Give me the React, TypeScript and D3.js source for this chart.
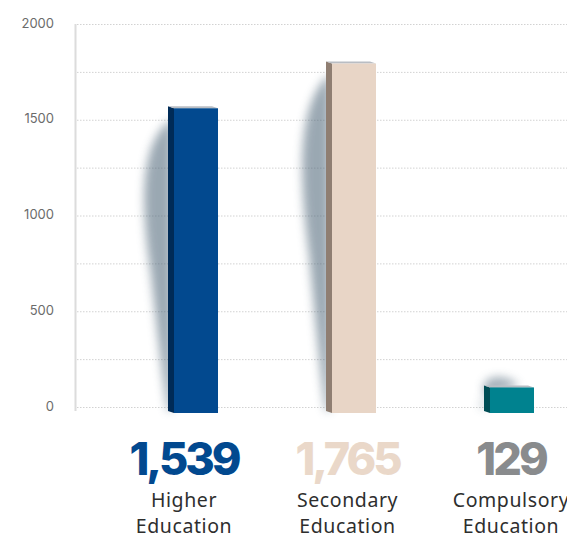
import React, { useEffect, useRef } from 'react';
import * as d3 from 'd3';

const categories = ['Higher Education', 'Secondary Education', 'Compulsory Education'];
const labelLines = [['Higher', 'Education'], ['Secondary', 'Education'], ['Compulsory', 'Education']];
const values = [1539, 1765, 129];
const valueLabels = ['1,539', '1,765', '129'];
const yTicks = [0, 500, 1000, 1500, 2000];
const gridTicks = [0, 250, 500, 750, 1000, 1250, 1500, 1750, 2000];

const frontColors = ['#02498f', '#e8d5c6', '#00828f'];
const sideColors = ['#002b57', '#8f7e72', '#004d55'];
const numberColors = ['#02498f', '#ead8c9', '#898b8d'];

const App: React.FC = () => {
  const svgRef = useRef<SVGSVGElement>(null);

  useEffect(() => {
    if (!svgRef.current) return;
    const svg = d3.select(svgRef.current);
    svg.selectAll('*').remove();

    const width = 567;

    // axis / grid scale
    const yScale = d3.scaleLinear().domain([0, 2000]).range([407, 24]);
    // bars sit on a baseline a little lower than the zero grid line
    const barScale = d3.scaleLinear().domain([0, 2000]).range([413, 17]);

    const xScale = d3.scalePoint<string>().domain(categories).range([196, 512]);
    const labelScale = d3.scalePoint<string>().domain(categories).range([184, 511]);

    const barWidth = 44;
    const depth = 6;
    const lift = 2;

    const defs = svg.append('defs');
    defs.append('filter')
      .attr('id', 'shadowBlur')
      .attr('x', '-50%').attr('y', '-50%')
      .attr('width', '200%').attr('height', '200%')
      .append('feGaussianBlur')
      .attr('stdDeviation', 5);

    // grid lines
    svg.append('g')
      .selectAll('line')
      .data(gridTicks)
      .join('line')
      .attr('x1', 77)
      .attr('x2', width)
      .attr('y1', d => yScale(d) + 0.5)
      .attr('y2', d => yScale(d) + 0.5)
      .attr('stroke', '#d2d2d2')
      .attr('stroke-width', 1)
      .attr('stroke-dasharray', '1.5,1.5');

    // y axis line
    svg.append('line')
      .attr('x1', 75.5).attr('x2', 75.5)
      .attr('y1', yScale(2000)).attr('y2', 411)
      .attr('stroke', '#dcdcdc')
      .attr('stroke-width', 2);

    // y tick labels
    svg.append('g')
      .selectAll('text')
      .data(yTicks)
      .join('text')
      .attr('x', 54)
      .attr('y', d => yScale(d) - 1)
      .attr('dy', '0.35em')
      .attr('text-anchor', 'end')
      .attr('font-family', 'Inter, "Noto Sans", sans-serif')
      .attr('font-size', 13)
      .attr('fill', '#6b6b6b')
      .text(d => String(d));

    const bars = categories.map((c, i) => ({
      cat: c,
      value: values[i],
      cx: xScale(c) as number,
      top: barScale(values[i]),
      bottom: barScale(0),
      i,
    }));

    // soft shadows to the left of each bar
    bars.forEach(b => {
      const x0 = b.cx - barWidth / 2 - depth;
      const h = b.bottom - b.top;
      const p = d3.path();
      if (h > 100) {
        const bulge = Math.min(28, h * 0.1);
        p.moveTo(x0 + 2, b.top + 12);
        p.bezierCurveTo(x0 - bulge, b.top + h * 0.12, x0 - bulge, b.top + h * 0.3, x0 - bulge * 0.6, b.top + h * 0.55);
        p.bezierCurveTo(x0 - bulge * 0.3, b.top + h * 0.8, x0 - 2, b.bottom - 10, x0, b.bottom - 2);
        p.lineTo(x0 + 4, b.bottom - 2);
        p.lineTo(x0 + 4, b.top + 12);
        p.closePath();
      } else {
        p.moveTo(x0, b.top + 4);
        p.bezierCurveTo(x0 - 4, b.top - 12, x0 + 20, b.top - 16, x0 + barWidth * 0.8, b.top - 2);
        p.lineTo(x0 + 8, b.top + 6);
        p.bezierCurveTo(x0 - 6, b.top + 16, x0 - 6, b.bottom - 6, x0 + 2, b.bottom - 4);
        p.closePath();
      }
      svg.append('path')
        .attr('d', p.toString())
        .attr('fill', '#4a6275')
        .attr('opacity', b.i === 2 ? 0.5 : 0.55)
        .attr('filter', 'url(#shadowBlur)');
    });

    const barG = svg.append('g')
      .selectAll('g')
      .data(bars)
      .join('g');

    // side face
    barG.append('polygon')
      .attr('points', d => {
        const x0 = d.cx - barWidth / 2;
        return [
          [x0 - depth, d.top - lift],
          [x0, d.top],
          [x0, d.bottom],
          [x0 - depth, d.bottom - lift],
        ].map(p => p.join(',')).join(' ');
      })
      .attr('fill', d => sideColors[d.i]);

    // top face
    barG.append('polygon')
      .attr('points', d => {
        const x0 = d.cx - barWidth / 2;
        const x1 = d.cx + barWidth / 2;
        return [
          [x0 - depth, d.top - lift],
          [x1 - depth, d.top - lift],
          [x1, d.top],
          [x0, d.top],
        ].map(p => p.join(',')).join(' ');
      })
      .attr('fill', '#b9bdc3');

    // front face
    barG.append('rect')
      .attr('x', d => d.cx - barWidth / 2)
      .attr('y', d => d.top)
      .attr('width', barWidth)
      .attr('height', d => d.bottom - d.top)
      .attr('fill', d => frontColors[d.i]);

    // value labels
    svg.append('g')
      .selectAll('text')
      .data(categories)
      .join('text')
      .attr('x', d => labelScale(d) as number)
      .attr('y', 475)
      .attr('text-anchor', 'middle')
      .attr('font-family', 'Inter, "Noto Sans", sans-serif')
      .attr('font-weight', 800)
      .attr('font-size', 45)
      .attr('letter-spacing', -3)
      .attr('fill', (_, i) => numberColors[i])
      .text((_, i) => valueLabels[i]);

    // category labels
    const catG = svg.append('g')
      .selectAll('text')
      .data(categories)
      .join('text')
      .attr('x', d => labelScale(d) as number)
      .attr('y', 507)
      .attr('text-anchor', 'middle')
      .attr('font-family', '"Noto Sans", Inter, sans-serif')
      .attr('font-size', 19.5)
      .attr('letter-spacing', 0.6)
      .attr('fill', '#2e2e2e');

    catG.selectAll('tspan')
      .data((_, i) => labelLines[i])
      .join('tspan')
      .attr('x', function () {
        return (this.parentNode as SVGTextElement).getAttribute('x');
      })
      .attr('dy', (_, j) => (j === 0 ? 0 : 26))
      .text(d => d);
  }, []);

  return (
    <svg
      ref={svgRef}
      width={567}
      height={535}
      style={{ position: 'absolute', left: 0, top: 0, background: '#fff' }}
    />
  );
};

export default App;
